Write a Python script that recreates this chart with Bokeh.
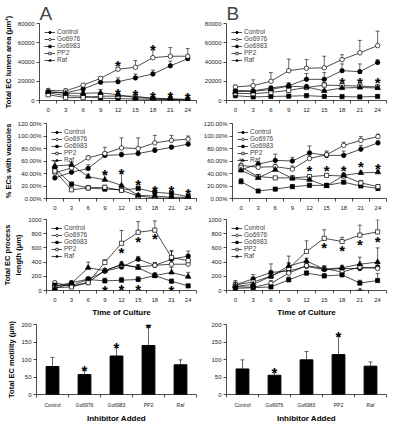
from bokeh.plotting import figure
from bokeh.layouts import column, row
from bokeh.models import Range1d, FixedTicker, PrintfTickFormatter, NumeralTickFormatter
from bokeh.core.properties import value
from bokeh.embed import file_html
from bokeh.resources import INLINE

FONT = "Liberation Sans"

hours = [0, 3, 6, 9, 12, 15, 18, 21, 24]
series = ["Control", "Go6976", "Go6983", "PP2", "Raf"]
inhibitors = ["Control", "Go6976", "Go6983", "PP2", "Raf"]

# ---- Panel A: lumen area
a_lum_control = [9000, 8000, 12000, 19000, 19500, 23500, 27500, 36000, 43500]
a_lum_go6976 = [10500, 10000, 16000, 23000, 32500, 34500, 44500, 46000, 46000]
a_lum_go6983 = [8000, 5000, 4500, 2500, 2000, 1500, 1200, 800, 500]
a_lum_pp2 = [6000, 3000, 3000, 4500, 4500, 4500, 2000, 1200, 600]
a_lum_raf = [9000, 7500, 7500, 8000, 6000, 3000, 2500, 1800, 1200]
a_lum_err_control = [1500, 1500, 2000, 3500, 4000, 4000, 4000, 5000, 3000]
a_lum_err_go6976 = [1500, 2000, 1500, 1500, 2000, 7000, 8000, 9000, 8000]
a_lum_err_go6983 = [1500, 1000, 1000, 500, 500, 500, 500, 300, 300]
a_lum_err_pp2 = [1000, 1000, 1000, 1500, 2000, 1500, 1000, 500, 500]
a_lum_err_raf = [2000, 1000, 2000, 3500, 2000, 1500, 1000, 800, 500]
a_lum_star_x = [12, 18, 12, 15, 18, 21, 24]
a_lum_star_y = [41000, 57000, 11500, 10000, 8400, 8400, 7500]

# ---- Panel B: lumen area
b_lum_control = [10500, 10000, 13000, 15500, 22000, 22000, 31000, 30000, 39500]
b_lum_go6976 = [14000, 15500, 20000, 31000, 33500, 34000, 42500, 49500, 57000]
b_lum_go6983 = [5000, 3700, 4200, 4500, 5000, 4200, 4000, 3700, 4200]
b_lum_pp2 = [7500, 7000, 8500, 10500, 13500, 16000, 15500, 15000, 14000]
b_lum_raf = [9200, 9500, 11500, 15000, 14000, 10000, 13000, 13500, 13000]
b_lum_err_control = [1500, 1500, 2000, 3000, 6000, 7000, 7000, 8000, 3000]
b_lum_err_go6976 = [2000, 6000, 9000, 12000, 9000, 12000, 5000, 13000, 15000]
b_lum_err_go6983 = [800, 500, 500, 500, 500, 500, 500, 500, 500]
b_lum_err_pp2 = [1000, 1000, 1500, 2000, 2000, 2500, 2000, 2000, 2000]
b_lum_err_raf = [1500, 1000, 2000, 2000, 2500, 1500, 2000, 2000, 2000]
b_lum_star_x = [18, 21, 24]
b_lum_star_y = [22500, 22500, 22500]

# ---- Panel A: % ECs with vacuoles
a_vac_control = [33, 42, 48, 69, 70, 72, 77, 82, 87]
a_vac_go6976 = [41, 49, 65, 72, 81, 80, 89, 93, 95]
a_vac_go6983 = [48, 23, 17, 15, 14, 16, 10, 8, 3]
a_vac_pp2 = [44, 14, 17, 18, 13, 4, 1, 0.5, 0.5]
a_vac_raf = [52, 54, 35, 30, 21, 5, 4, 2, 2]
a_vac_err_control = [5, 5, 6, 5, 4, 3, 4, 3, 3]
a_vac_err_go6976 = [4, 4, 3, 10, 16, 17, 12, 8, 5]
a_vac_err_go6983 = [5, 3, 2, 2, 2, 4, 3, 3, 2]
a_vac_err_pp2 = [5, 2, 3, 3, 3, 2, 1, 1, 1]
a_vac_err_raf = [7, 4, 4, 10, 22, 3, 2, 2, 2]
a_vac_star_x = [9, 12, 15, 18, 21, 24]
a_vac_star_y = [45, 46, 28.5, 19.5, 18.5, 14.5]

# ---- Panel B: % ECs with vacuoles
b_vac_control = [46, 55, 61, 60, 73, 69, 69, 79, 89]
b_vac_go6976 = [53, 50, 51, 47, 64, 70, 85, 93, 99]
b_vac_go6983 = [27, 12, 15, 19, 21, 21, 26, 20, 16]
b_vac_pp2 = [50, 35, 33, 33, 35, 37, 36, 25, 19]
b_vac_raf = [45, 33, 46, 32, 30, 20, 37, 41, 42]
b_vac_err_control = [5, 4, 10, 6, 11, 5, 7, 6, 3]
b_vac_err_go6976 = [10, 4, 4, 5, 4, 6, 5, 6, 4]
b_vac_err_go6983 = [5, 2, 2, 2, 2, 2, 3, 2, 2]
b_vac_err_pp2 = [6, 3, 2, 3, 3, 3, 4, 4, 3]
b_vac_err_raf = [3, 2, 3, 2, 5, 4, 4, 3, 3]
b_vac_star_x = [12, 15, 18, 21, 24]
b_vac_star_y = [51, 51, 51, 58, 54]

# ---- Panel A: process length
a_proc_control = [60, 110, 160, 270, 330, 440, 355, 440, 485]
a_proc_go6976 = [110, 60, 115, 280, 360, 330, 355, 370, 370]
a_proc_go6983 = [75, 70, 155, 135, 145, 155, 210, 130, 65]
a_proc_pp2 = [40, 50, 110, 395, 665, 820, 850, 465, 420]
a_proc_raf = [30, 100, 320, 280, 370, 320, 210, 255, 195]
a_proc_err_control = [15, 20, 20, 40, 40, 40, 30, 110, 70]
a_proc_err_go6976 = [20, 20, 20, 30, 30, 30, 40, 100, 80]
a_proc_err_go6983 = [20, 20, 40, 40, 40, 40, 40, 30, 20]
a_proc_err_pp2 = [20, 20, 20, 40, 180, 150, 130, 100, 40]
a_proc_err_raf = [20, 30, 80, 30, 40, 40, 30, 70, 60]
a_proc_star_x = [12, 15, 18, 9, 12, 15, 21, 24]
a_proc_star_y = [596, 750, 785, 62, 70, 70, 53, 2]

# ---- Panel B: process length
b_proc_control = [80, 165, 255, 275, 340, 295, 310, 310, 330]
b_proc_go6976 = [55, 45, 100, 245, 350, 310, 260, 330, 310]
b_proc_go6983 = [30, 40, 50, 150, 245, 205, 220, 105, 140]
b_proc_pp2 = [80, 120, 200, 310, 550, 735, 690, 780, 825]
b_proc_raf = [60, 85, 200, 345, 415, 300, 320, 370, 400]
b_proc_err_control = [40, 60, 120, 110, 40, 40, 30, 60, 60]
b_proc_err_go6976 = [20, 20, 40, 40, 40, 40, 40, 40, 40]
b_proc_err_go6983 = [20, 20, 20, 40, 30, 30, 40, 40, 100]
b_proc_err_pp2 = [60, 50, 60, 80, 150, 120, 60, 140, 170]
b_proc_err_raf = [30, 40, 60, 140, 40, 40, 30, 100, 200]
b_proc_star_x = [15, 18, 21, 24, 21]
b_proc_star_y = [662, 618, 706, 750, 35]

# ---- Motility bars
a_mot = [80, 57, 110, 140, 85]
a_mot_err = [26, 14, 24, 54, 14]
a_mot_star_x = [2, 3, 4]
a_mot_star_y = [79, 147, 203]
b_mot = [73, 55, 99, 114, 81]
b_mot_err = [26, 13, 24, 54, 12]
b_mot_star_x = [2, 4]
b_mot_star_y = [75, 177]

MARK = {
    "Control": ("circle", "black", 4.5),
    "Go6976": ("circle", "white", 4.5),
    "Go6983": ("square", "black", 4.2),
    "PP2": ("square", "white", 4.2),
    "Raf": ("triangle", "black", 5.5),
}


def style_axes(p):
    p.outline_line_color = None
    p.xgrid.visible = False
    p.ygrid.visible = False
    for ax in (p.xaxis[0], p.yaxis[0]):
        ax.axis_line_color = "black"
        ax.axis_line_width = 0.7
        ax.major_tick_line_color = "black"
        ax.major_tick_line_width = 0.7
        ax.minor_tick_line_color = "black"
        ax.minor_tick_line_width = 0.7
        ax.major_label_text_font = FONT
        ax.major_label_text_font_size = "6px"
        ax.major_label_text_color = "#222222"
        ax.axis_label_text_font = FONT
        ax.axis_label_text_font_style = "bold"
        ax.axis_label_text_font_size = "7.5px"
        ax.axis_label_text_color = "black"
    ya = p.yaxis[0]
    ya.major_tick_out = 3
    ya.major_tick_in = 0
    ya.minor_tick_out = 0
    ya.minor_tick_in = 0
    ya.major_label_standoff = 2
    ya.axis_label_standoff = 2


def add_stars(p, sx, sy):
    p.text(x=sx, y=sy, text=["*"] * len(sx), text_font=value(FONT),
           text_font_style="bold", text_font_size="15px", text_align="center",
           text_baseline="middle", y_offset=4, text_color="black")


def line_panel(width, height, bl, bt, bb, ymax, ystep, fmt, vals, errs, sx, sy,
               ylabel=None, xlabel=None, title=None):
    p = figure(width=width, height=height, output_backend="svg", toolbar_location=None,
               tools="", x_range=Range1d(-1.5, 25.5), y_range=Range1d(0, ymax),
               min_border_left=bl, min_border_right=4, min_border_top=bt,
               min_border_bottom=bb, background_fill_color=None, border_fill_color=None)
    if title:
        p.title.text = title
        p.title.text_font = FONT
        p.title.text_font_size = "19px"
        p.title.text_font_style = "normal"
        p.title.standoff = 0
        p.title.align = "left"
    for name, v, e in zip(series, vals, errs):
        top = [a + b for a, b in zip(v, e)]
        p.segment(x0=hours, y0=v, x1=hours, y1=top, line_color="black", line_width=0.6)
        p.scatter(x=hours, y=top, marker="dash", size=4, line_color="black", line_width=0.6)
    for name, v in zip(series, vals):
        m, fill, sz = MARK[name]
        p.line(x=hours, y=v, line_color="black", line_width=0.7, legend_label=name)
        p.scatter(x=hours, y=v, marker=m, size=sz, fill_color=fill, line_color="black",
                  line_width=0.7, legend_label=name)
    add_stars(p, sx, sy)
    style_axes(p)
    xa = p.xaxis[0]
    xa.ticker = FixedTicker(ticks=hours, minor_ticks=[-1.5 + 3 * i for i in range(10)])
    xa.major_tick_out = 0
    xa.major_tick_in = 0
    xa.minor_tick_out = 3
    xa.minor_tick_in = 0
    xa.major_label_standoff = 4
    xa.axis_label_standoff = 3
    if xlabel:
        xa.axis_label = xlabel
        xa.axis_label_text_font_size = "8px"
    ya = p.yaxis[0]
    ya.ticker = FixedTicker(ticks=list(range(0, ymax + 1, ystep)))
    ya.formatter = fmt
    if ylabel:
        ya.axis_label = ylabel
    lg = p.legend[0]
    lg.location = "top_left"
    lg.margin = 3
    lg.padding = 2
    lg.spacing = 0
    lg.label_text_font = FONT
    lg.label_text_font_size = "6.5px"
    lg.label_height = 6
    lg.glyph_height = 6
    lg.glyph_width = 11
    lg.label_standoff = 2
    lg.background_fill_alpha = 0
    lg.border_line_alpha = 0
    return p


def bar_panel(width, height, bl, vals, errs, sx, sy, ylabel=None):
    xs = list(range(1, len(inhibitors) + 1))
    p = figure(width=width, height=height, output_backend="svg", toolbar_location=None,
               tools="", x_range=Range1d(0.5, len(inhibitors) + 0.5), y_range=Range1d(0, 200),
               min_border_left=bl, min_border_right=4, min_border_top=5,
               min_border_bottom=26, background_fill_color=None, border_fill_color=None)
    top = [a + b for a, b in zip(vals, errs)]
    p.segment(x0=xs, y0=vals, x1=xs, y1=top, line_color="black", line_width=0.6)
    p.scatter(x=xs, y=top, marker="dash", size=4, line_color="black", line_width=0.6)
    p.vbar(x=xs, top=vals, width=0.4, fill_color="black", line_color="black")
    add_stars(p, sx, sy)
    style_axes(p)
    xa = p.xaxis[0]
    xa.ticker = FixedTicker(ticks=xs, minor_ticks=[x + 0.5 for x in [0] + xs])
    xa.major_label_overrides = {x: n for x, n in zip(xs, inhibitors)}
    xa.major_tick_out = 0
    xa.major_tick_in = 0
    xa.minor_tick_out = 3
    xa.minor_tick_in = 0
    xa.major_label_standoff = 4
    xa.major_label_text_font_size = "5px"
    xa.axis_label = "Inhibitor Added"
    xa.axis_label_text_font_size = "8px"
    xa.axis_label_standoff = 3
    ya = p.yaxis[0]
    ya.ticker = FixedTicker(ticks=[0, 50, 100, 150, 200])
    ya.formatter = NumeralTickFormatter(format="0")
    if ylabel:
        ya.axis_label = ylabel
    return p


num = NumeralTickFormatter(format="0")
pct = PrintfTickFormatter(format="%.2f%%")

LW, RW = 200, 190

pA1 = line_panel(LW, 114, 36, 20, 12, 80000, 20000, num,
                 [a_lum_control, a_lum_go6976, a_lum_go6983, a_lum_pp2, a_lum_raf],
                 [a_lum_err_control, a_lum_err_go6976, a_lum_err_go6983, a_lum_err_pp2, a_lum_err_raf],
                 a_lum_star_x, a_lum_star_y, ylabel="Total EC lumen area (μm²)", title="A")
pB1 = line_panel(RW, 114, 26, 20, 12, 80000, 20000, num,
                 [b_lum_control, b_lum_go6976, b_lum_go6983, b_lum_pp2, b_lum_raf],
                 [b_lum_err_control, b_lum_err_go6976, b_lum_err_go6983, b_lum_err_pp2, b_lum_err_raf],
                 b_lum_star_x, b_lum_star_y, title="B")
pA2 = line_panel(LW, 98, 36, 9, 12, 120, 20, pct,
                 [a_vac_control, a_vac_go6976, a_vac_go6983, a_vac_pp2, a_vac_raf],
                 [a_vac_err_control, a_vac_err_go6976, a_vac_err_go6983, a_vac_err_pp2, a_vac_err_raf],
                 a_vac_star_x, a_vac_star_y, ylabel="% ECs with vacuoles")
pB2 = line_panel(RW, 98, 31, 9, 12, 120, 20, pct,
                 [b_vac_control, b_vac_go6976, b_vac_go6983, b_vac_pp2, b_vac_raf],
                 [b_vac_err_control, b_vac_err_go6976, b_vac_err_go6983, b_vac_err_pp2, b_vac_err_raf],
                 b_vac_star_x, b_vac_star_y)
pA3 = line_panel(LW, 107, 36, 7, 26, 1000, 200, num,
                 [a_proc_control, a_proc_go6976, a_proc_go6983, a_proc_pp2, a_proc_raf],
                 [a_proc_err_control, a_proc_err_go6976, a_proc_err_go6983, a_proc_err_pp2, a_proc_err_raf],
                 a_proc_star_x, a_proc_star_y, ylabel="Total EC process\nlength (μm)",
                 xlabel="Time of Culture")
pB3 = line_panel(RW, 107, 26, 7, 26, 1000, 200, num,
                 [b_proc_control, b_proc_go6976, b_proc_go6983, b_proc_pp2, b_proc_raf],
                 [b_proc_err_control, b_proc_err_go6976, b_proc_err_go6983, b_proc_err_pp2, b_proc_err_raf],
                 b_proc_star_x, b_proc_star_y, xlabel="Time of Culture")
pA4 = bar_panel(LW, 106, 36, a_mot, a_mot_err, a_mot_star_x, a_mot_star_y,
                ylabel="Total EC motility (μm)")
pB4 = bar_panel(RW, 106, 26, b_mot, b_mot_err, b_mot_star_x, b_mot_star_y)

layout = column(row(pA1, pB1, spacing=0), row(pA2, pB2, spacing=0),
                row(pA3, pB3, spacing=0), row(pA4, pB4, spacing=0), spacing=0)

open("out.html", "w").write(file_html(layout, INLINE))
